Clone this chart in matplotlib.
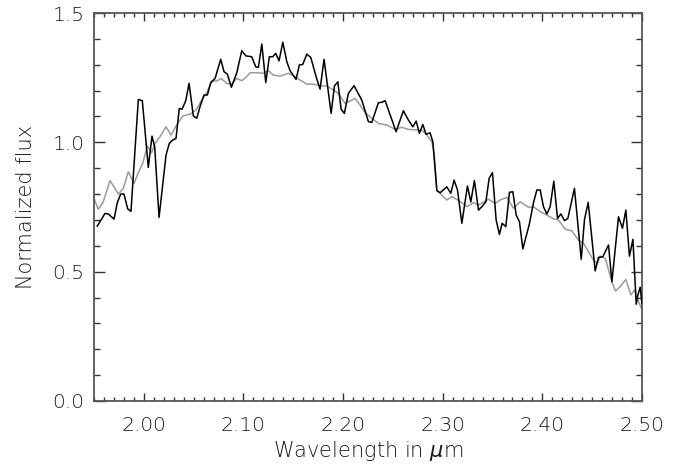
import numpy as np
import matplotlib
matplotlib.use("Agg")
import matplotlib.pyplot as plt
from matplotlib.ticker import MultipleLocator

# observed spectrum (black)
obs_wave = [1.9533, 1.9560, 1.9610, 1.9644, 1.9701, 1.9734, 1.9768, 1.9801, 1.9838, 1.9871,
            1.9945, 1.9985, 2.0045, 2.0082, 2.0109, 2.0153, 2.0223, 2.0256, 2.0290, 2.0323,
            2.0356, 2.0384, 2.0421, 2.0454, 2.0497, 2.0531, 2.0564, 2.0604, 2.0638, 2.0672,
            2.0715, 2.0772, 2.0805, 2.0838, 2.0879, 2.0933, 2.0983, 2.1026, 2.1083, 2.1123,
            2.1150, 2.1184, 2.1224, 2.1260, 2.1294, 2.1324, 2.1357, 2.1395, 2.1435, 2.1468,
            2.1528, 2.1561, 2.1595, 2.1636, 2.1676, 2.1729, 2.1769, 2.1809, 2.1880, 2.1913,
            2.1947, 2.1980, 2.2013, 2.2053, 2.2110, 2.2188, 2.2254, 2.2288, 2.2354, 2.2389,
            2.2422, 2.2532, 2.2605, 2.2656, 2.2700, 2.2733, 2.2766, 2.2800, 2.2833, 2.2873,
            2.2901, 2.2941, 2.2974, 2.3041, 2.3081, 2.3114, 2.3148, 2.3192, 2.3248, 2.3282,
            2.3318, 2.3359, 2.3393, 2.3433, 2.3466, 2.3499, 2.3536, 2.3569, 2.3596, 2.3633,
            2.3670, 2.3704, 2.3737, 2.3770, 2.3804, 2.3867, 2.3911, 2.3945, 2.3978, 2.4011,
            2.4045, 2.4078, 2.4115, 2.4152, 2.4186, 2.4222, 2.4256, 2.4322, 2.4390, 2.4423,
            2.4460, 2.4530, 2.4563, 2.4607, 2.4664, 2.4698, 2.4764, 2.4804, 2.4838, 2.4874,
            2.4909, 2.4942, 2.4959, 2.4982, 2.4999]
obs_flux = [0.676, 0.693, 0.725, 0.723, 0.703, 0.767, 0.800, 0.800, 0.743, 0.733,
            1.166, 1.161, 0.903, 1.024, 0.983, 0.710, 0.951, 0.996, 1.009, 1.015,
            1.131, 1.128, 1.161, 1.228, 1.102, 1.093, 1.138, 1.183, 1.183, 1.231,
            1.247, 1.321, 1.273, 1.264, 1.213, 1.269, 1.354, 1.334, 1.331, 1.292,
            1.290, 1.380, 1.231, 1.331, 1.331, 1.344, 1.315, 1.387, 1.312, 1.277,
            1.243, 1.299, 1.301, 1.341, 1.328, 1.254, 1.206, 1.321, 1.112, 1.218,
            1.234, 1.128, 1.112, 1.189, 1.219, 1.163, 1.080, 1.077, 1.153, 1.155,
            1.161, 1.041, 1.122, 1.086, 1.060, 1.082, 1.035, 1.069, 1.031, 1.037,
            1.002, 0.813, 0.805, 0.828, 0.803, 0.854, 0.816, 0.687, 0.831, 0.770,
            0.852, 0.738, 0.751, 0.770, 0.861, 0.883, 0.700, 0.644, 0.687, 0.674,
            0.807, 0.809, 0.719, 0.693, 0.588, 0.680, 0.767, 0.816, 0.816, 0.751,
            0.723, 0.751, 0.850, 0.706, 0.723, 0.697, 0.706, 0.822, 0.548, 0.702,
            0.768, 0.503, 0.555, 0.558, 0.603, 0.461, 0.712, 0.668, 0.738, 0.560,
            0.625, 0.374, 0.410, 0.440, 0.378]

# model spectrum (grey)
mod_wave = [1.9500, 1.9543, 1.9593, 1.9661, 1.9701, 1.9744, 1.9794, 1.9844, 1.9902, 1.9945,
            1.9989, 2.0035, 2.0079, 2.0112, 2.0163, 2.0223, 2.0273, 2.0330, 2.0391, 2.0464,
            2.0524, 2.0581, 2.0632, 2.0682, 2.0732, 2.0775, 2.0832, 2.0883, 2.0933, 2.0983,
            2.1033, 2.1066, 2.1134, 2.1200, 2.1250, 2.1300, 2.1367, 2.1451, 2.1518, 2.1568,
            2.1636, 2.1702, 2.1769, 2.1836, 2.1903, 2.1953, 2.2020, 2.2087, 2.2120, 2.2171,
            2.2221, 2.2288, 2.2354, 2.2439, 2.2522, 2.2589, 2.2656, 2.2740, 2.2790, 2.2840,
            2.2891, 2.2914, 2.2941, 2.2990, 2.3041, 2.3091, 2.3142, 2.3192, 2.3242, 2.3308,
            2.3359, 2.3459, 2.3526, 2.3576, 2.3644, 2.3710, 2.3777, 2.3861, 2.3911, 2.3978,
            2.4045, 2.4112, 2.4162, 2.4229, 2.4296, 2.4362, 2.4413, 2.4463, 2.4513, 2.4553,
            2.4580, 2.4631, 2.4698, 2.4733, 2.4781, 2.4838, 2.4888, 2.4924, 2.4957, 2.4999]
mod_flux = [0.783, 0.741, 0.770, 0.852, 0.828, 0.800, 0.822, 0.886, 0.841, 0.883,
            0.919, 0.986, 0.960, 0.996, 1.022, 1.060, 1.028, 1.067, 1.102, 1.109,
            1.125, 1.163, 1.192, 1.237, 1.237, 1.247, 1.228, 1.225, 1.247, 1.238,
            1.254, 1.269, 1.269, 1.267, 1.277, 1.260, 1.256, 1.267, 1.254, 1.241,
            1.225, 1.225, 1.218, 1.218, 1.202, 1.189, 1.151, 1.163, 1.170, 1.144,
            1.114, 1.093, 1.073, 1.067, 1.050, 1.058, 1.050, 1.048, 1.048, 1.028,
            1.002, 0.957, 0.816, 0.796, 0.777, 0.790, 0.779, 0.767, 0.751, 0.767,
            0.758, 0.780, 0.764, 0.777, 0.787, 0.745, 0.770, 0.749, 0.751, 0.732,
            0.719, 0.704, 0.700, 0.664, 0.658, 0.622, 0.610, 0.577, 0.545, 0.532,
            0.560, 0.552, 0.461, 0.425, 0.442, 0.470, 0.410, 0.429, 0.393, 0.352]

x_ticks = [2.00, 2.10, 2.20, 2.30, 2.40, 2.50]
y_ticks = [0.0, 0.5, 1.0, 1.5]

plt.rcParams["font.family"] = "DejaVu Sans"
plt.rcParams["font.weight"] = "light"
plt.rcParams["axes.labelweight"] = "light"
plt.rcParams["mathtext.fontset"] = "custom"
plt.rcParams["mathtext.rm"] = "DejaVu Sans:light"
plt.rcParams["mathtext.it"] = "DejaVu Sans:italic:light"

fig = plt.figure(figsize=(6.81, 4.66), dpi=100)
ax = fig.add_axes([94 / 681, 65 / 466, 548 / 681, 388 / 466])

ax.plot(mod_wave, mod_flux, color="#9a9a9a", lw=1.1, zorder=2)
ax.plot(obs_wave, obs_flux, color="black", lw=1.1, zorder=3)

ax.set_xlim(1.95, 2.50)
ax.set_ylim(0.0, 1.5)

ax.set_xticks(x_ticks)
ax.set_xticklabels(["%.2f" % t for t in x_ticks])
ax.set_yticks(y_ticks)
ax.set_yticklabels(["%.1f" % t for t in y_ticks])
ax.xaxis.set_minor_locator(MultipleLocator(0.01))
ax.yaxis.set_minor_locator(MultipleLocator(0.1))

ax.tick_params(axis="both", which="both", direction="in", top=True, right=True,
               color="#333333", width=1.0, labelsize=14.5, labelcolor="#1a1a1a")
ax.tick_params(axis="x", which="major", length=6, pad=11)
ax.tick_params(axis="x", which="minor", length=3)
ax.tick_params(axis="y", which="major", length=8, pad=7)
ax.tick_params(axis="y", which="minor", length=4)

for s in ax.spines.values():
    s.set_color("#555555")
    s.set_linewidth(1.3)

ax.set_xlabel(r"Wavelength in $\mu$m", fontsize=15, color="#1a1a1a", labelpad=3)
ax.set_ylabel("Normalized flux", fontsize=15, color="#1a1a1a", labelpad=12)

fig.savefig("out.png", dpi=100)
plt.close(fig)
